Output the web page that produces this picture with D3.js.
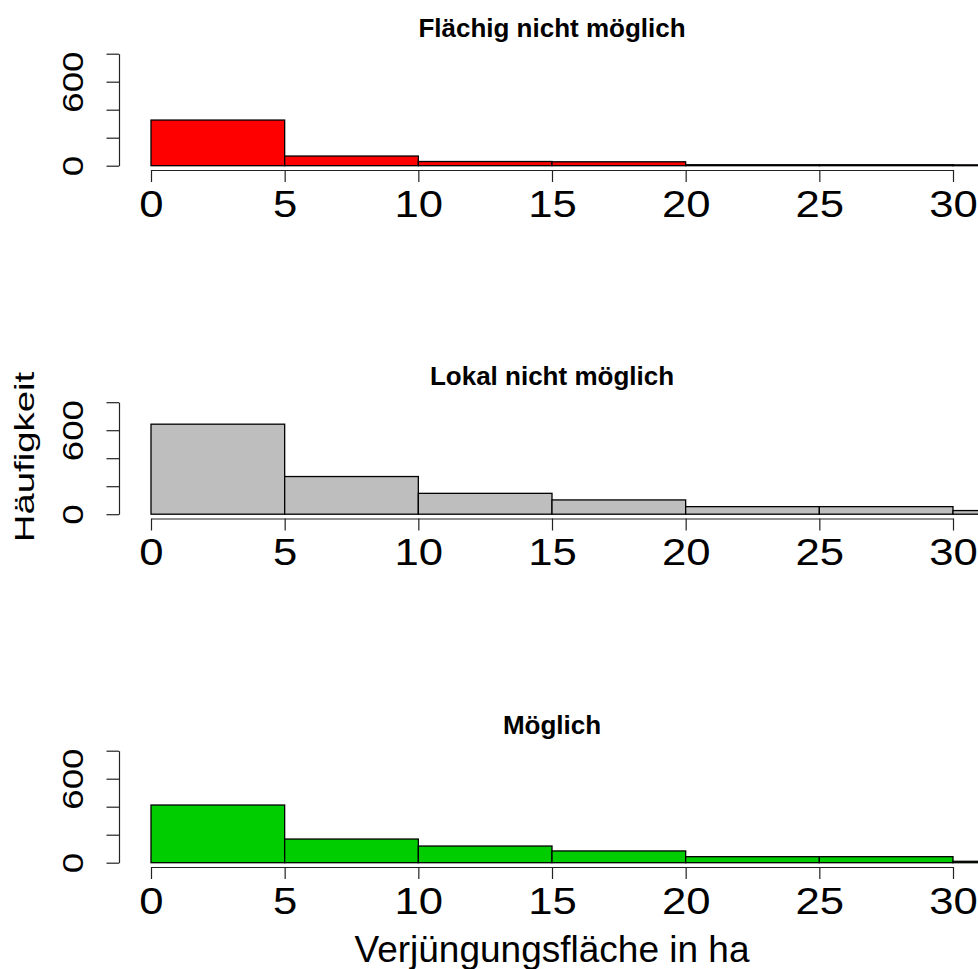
<!DOCTYPE html>
<html>
<head>
<meta charset="utf-8">
<script src="https://cdn.jsdelivr.net/npm/d3@7"></script>
<style>
  body { margin: 0; background: #fff; }
  svg { display: block; font-family: "Liberation Sans", Arial, sans-serif; }
</style>
</head>
<body>
<div id="chart"></div>
<script>
var WIDTH = 978, HEIGHT = 969;
var PANEL_STEP = 348.5; //vertical distance between the three panels
var PANEL_TOP = 53.7;   //pixel position of the 800 tick in the first panel
var PANEL_HEIGHT = 112; //0..800 in pixels

//histogram bins (ha) and counts per panel
var breaks = [0, 5, 10, 15, 20, 25, 30, 35];
var flaechigCounts = [326, 69, 30, 28, 7, 7, 6];
var lokalCounts = [643, 269, 149, 102, 54, 54, 26];
var moeglichCounts = [412, 169, 119, 84, 43, 43, 10];

var panelTitles = ["Flächig nicht möglich", "Lokal nicht möglich", "Möglich"];
var panelColors = ["#FF0000", "#BEBEBE", "#00CD00"];
var panelCounts = [flaechigCounts, lokalCounts, moeglichCounts];

var xTicks = [0, 5, 10, 15, 20, 25, 30];
var yTicks = [0, 200, 400, 600, 800];
var yLabels = [0, 600]; //R dropped the other labels because they overlap

var svg = d3.select("#chart").append("svg")
    .attr("width", WIDTH)
    .attr("height", HEIGHT);

var x = d3.scaleLinear().domain([0, 30]).range([151, 953]);

svg.append("clipPath").attr("id", "plotClip")
  .append("rect").attr("x", 119).attr("y", 0).attr("width", 866).attr("height", HEIGHT);

function drawPanel(i) {
  var top = PANEL_TOP + i * PANEL_STEP;
  var y = d3.scaleLinear().domain([0, 800]).range([top + PANEL_HEIGHT, top]);
  var axisY = y(0) + 4.3;
  var g = svg.append("g").attr("class", "panel");

  var bins = panelCounts[i].map(function(c, j) { return {x0: breaks[j], x1: breaks[j + 1], count: c}; });

  g.append("g").attr("clip-path", "url(#plotClip)")
    .selectAll("rect")
    .data(bins)
    .enter()
    .append("rect")
    .attr("x", function(d) { return x(d.x0); })
    .attr("width", function(d) { return x(d.x1) - x(d.x0); })
    .attr("y", function(d) { return y(d.count); })
    .attr("height", function(d) { return y(0) - y(d.count); })
    .attr("fill", panelColors[i])
    .attr("stroke", "#000")
    .attr("stroke-width", 1.3);

  //x axis
  var xa = g.append("g")
    .attr("transform", "translate(0," + axisY + ")")
    .call(d3.axisBottom(x).tickValues(xTicks).tickSize(12).tickSizeOuter(0));
  xa.select(".domain").attr("stroke", "#222").attr("stroke-width", 1.2);
  xa.selectAll(".tick line").attr("stroke", "#222").attr("stroke-width", 1.2);
  xa.selectAll(".tick text")
    .attr("y", 46.8).attr("dy", null)
    .attr("font-size", 37)
    .attr("fill", "#000")
    .attr("font-family", "Liberation Sans, Arial, sans-serif")
    .attr("transform", "scale(1.18,1)");

  //y axis
  var ya = g.append("g")
    .attr("transform", "translate(119,0)")
    .call(d3.axisLeft(y).tickValues(yTicks).tickSize(12.5).tickSizeOuter(0)
      .tickFormat(function(d) { return yLabels.indexOf(d) >= 0 ? d : ""; }));
  ya.select(".domain").attr("stroke", "#222").attr("stroke-width", 1.2);
  ya.selectAll(".tick line").attr("stroke", "#222").attr("stroke-width", 1.2);
  ya.selectAll(".tick text")
    .attr("x", null).attr("dy", null)
    .attr("text-anchor", "middle")
    .attr("font-size", 30)
    .attr("fill", "#000")
    .attr("font-family", "Liberation Sans, Arial, sans-serif")
    .attr("transform", "translate(-35.7,0) rotate(-90) scale(1.22,1)");

  //panel title
  g.append("text")
    .attr("x", 552)
    .attr("y", top - 17.2)
    .attr("text-anchor", "middle")
    .attr("font-size", 26)
    .attr("font-weight", "bold")
    .text(panelTitles[i]);
}

for (var i = 0; i < panelTitles.length; i++) drawPanel(i);

//shared axis titles
svg.append("text")
  .attr("text-anchor", "middle")
  .attr("font-size", 28)
  .attr("transform", "translate(33.5,457) rotate(-90) scale(1.37,1)")
  .text("Häufigkeit");

svg.append("text")
  .attr("x", 552)
  .attr("y", 961.5)
  .attr("text-anchor", "middle")
  .attr("font-size", 37)
  .text("Verjüngungsfläche in ha");
</script>
</body>
</html>
